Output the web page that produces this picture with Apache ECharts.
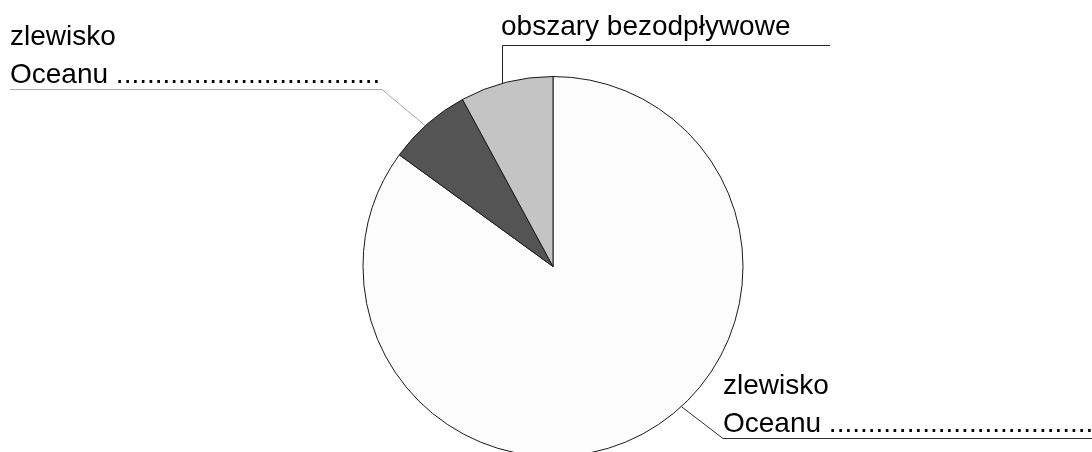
<!DOCTYPE html>
<html>
<head>
<meta charset="utf-8">
<script src="https://cdn.jsdelivr.net/npm/echarts@6/dist/echarts.min.js"></script>
<style>
html,body{margin:0;padding:0;background:#fff;}
#chart{width:1092px;height:452px;}
</style>
</head>
<body>
<div id="chart"></div>
<script>
// ---- data ----
var categories = ['zlewisko Oceanu (prawy)', 'zlewisko Oceanu (lewy)', 'obszary bezodpływowe'];
var values = [85.0, 7.1, 7.9];
var labelTexts = [
  'zlewisko\nOceanu ....................................',
  'zlewisko\nOceanu ..................................',
  'obszary bezodpływowe'
];
var sliceColors = ['#fcfcfc', '#545454', '#c4c4c4'];

// ---- layout (pixels) ----
var CX = 553, CY = 266.5, R = 190;
var LAYOUT = [
  { ang: 137.5, elbow: [723, 438.5], end: [1092, 438.5], tx: 723, ty: 443, line: '#333' },
  { ang: -42.2, elbow: [382, 89.5], end: [10, 89.5], tx: 10, ty: 94, line: '#aaaaaa' },
  { ang: -15.4, elbow: [502.5, 45.5], end: [830, 45.5], tx: 501, ty: 46, line: '#222' }
];

var chart = echarts.init(document.getElementById('chart'));
var data = categories.map(function (c, i) {
  return {
    name: c,
    value: values[i],
    itemStyle: { color: sliceColors[i] },
    label: { formatter: labelTexts[i] },
    labelLine: { lineStyle: { color: LAYOUT[i].line } }
  };
});

chart.setOption({
  backgroundColor: '#ffffff',
  animation: false,
  series: [{
    type: 'pie',
    center: [CX, CY],
    radius: R,
    startAngle: 90,
    clockwise: true,
    data: data,
    itemStyle: { borderColor: '#1a1a1a', borderWidth: 1 },
    label: {
      show: true,
      position: 'outside',
      color: '#000',
      fontFamily: 'Liberation Sans, Arial, sans-serif',
      fontSize: 28,
      lineHeight: 38,
      overflow: 'none'
    },
    labelLine: { show: true, lineStyle: { width: 1 } },
    labelLayout: function (p) {
      var L = LAYOUT[p.dataIndex];
      var a = L.ang * Math.PI / 180;
      var start = [CX + R * Math.sin(a), CY - R * Math.cos(a)];
      return {
        x: L.tx,
        y: L.ty,
        align: 'left',
        verticalAlign: 'bottom',
        labelLinePoints: [start, L.elbow, L.end]
      };
    }
  }]
});
</script>
</body>
</html>
